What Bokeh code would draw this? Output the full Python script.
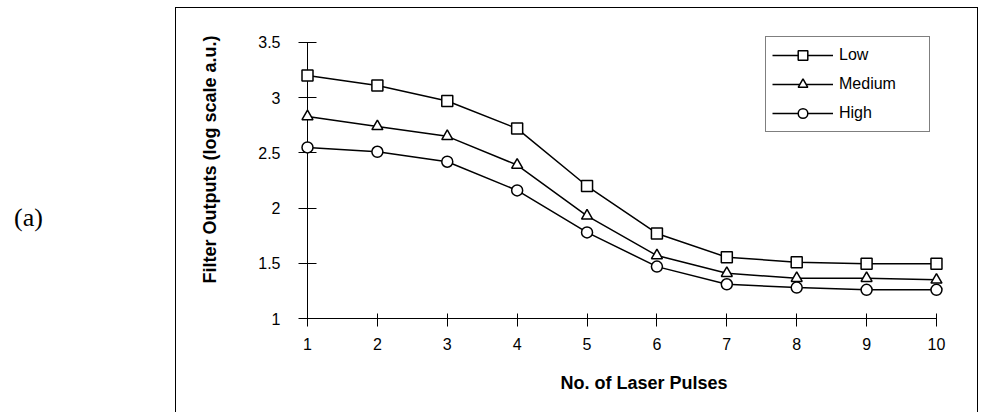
from bokeh.plotting import figure
from bokeh.layouts import row
from bokeh.models import Range1d, FixedTicker, CustomJSTickFormatter, Label, Legend
from bokeh.embed import file_html
from bokeh.resources import INLINE

# Number of laser pulses (x) and filter outputs (log scale a.u.) per level
pulses = [1, 2, 3, 4, 5, 6, 7, 8, 9, 10]
low = [3.20, 3.11, 2.97, 2.72, 2.20, 1.77, 1.555, 1.51, 1.495, 1.495]
medium = [2.83, 2.74, 2.65, 2.39, 1.93, 1.57, 1.41, 1.365, 1.365, 1.35]
high = [2.55, 2.51, 2.42, 2.16, 1.78, 1.47, 1.31, 1.28, 1.26, 1.26]

series_names = ["Low", "Medium", "High"]
y_ticks = [1, 1.5, 2, 2.5, 3, 3.5]
x_ticks = pulses

FONT = "Liberation Sans"
H = 412
LEFT_W = 50          # strip holding the panel tag
MAIN_W = 985 - LEFT_W

# ---- panel tag "(a)" ----
tag = figure(width=LEFT_W, height=H, output_backend="svg", toolbar_location=None,
             x_axis_location=None, y_axis_location=None, min_border=0,
             x_range=Range1d(0, 1), y_range=Range1d(0, 1))
tag.outline_line_color = None
tag.grid.visible = False
tag.add_layout(Label(x=28, y=101, x_units="screen", y_units="screen",
                     text="(a)", text_align="center", text_baseline="middle",
                     text_font="Liberation Serif", text_font_size="26px",
                     text_color="black"))

# ---- main chart: plot area starts exactly at (1, 1) ----
p = figure(width=MAIN_W, height=H, output_backend="svg", toolbar_location=None,
           x_range=Range1d(1, 10.63), y_range=Range1d(1, 3.8804),
           min_border_left=257, min_border_right=5,
           min_border_top=0, min_border_bottom=94)
p.background_fill_alpha = 0
p.border_fill_alpha = 0
p.outline_line_color = None
p.xgrid.visible = False
p.ygrid.visible = False

# thin rectangle framing the whole chart (open at the bottom of the page)
bx0, bx1, by0 = 175 - LEFT_W, 977 - LEFT_W, 7
p.styles = {
    "background-image": ", ".join(["linear-gradient(#000, #000)"] * 3),
    "background-size": f"1px {H}px, 1px {H}px, {bx1 - bx0 + 1}px 1px",
    "background-position": f"{bx0}px {by0}px, {bx1}px {by0}px, {bx0}px {by0}px",
    "background-repeat": "no-repeat",
}

xa = p.xaxis[0]
ya = p.yaxis[0]
xa.bounds = (1, 10)
ya.bounds = (1, 3.5)
xa.ticker = FixedTicker(ticks=x_ticks)
ya.ticker = FixedTicker(ticks=y_ticks)
ya.formatter = CustomJSTickFormatter(code="return String(tick)")
for ax in (xa, ya):
    ax.minor_tick_line_color = None
    ax.axis_line_color = "black"
    ax.major_tick_line_color = "black"
    ax.major_label_text_font = FONT
    ax.major_label_text_font_size = "16px"
    ax.major_label_text_color = "black"
    ax.axis_label_text_font = FONT
    ax.axis_label_text_font_size = "18px"
    ax.axis_label_text_font_style = "bold"
    ax.axis_label_text_color = "black"
xa.major_tick_in = 5
xa.major_tick_out = 8
xa.major_label_standoff = 11
xa.axis_label = "No. of Laser Pulses"
xa.axis_label_standoff = 20
ya.major_tick_in = 9
ya.major_tick_out = 9
ya.major_label_standoff = 18
ya.axis_label = "Filter Outputs (log scale a.u.)"
ya.axis_label_standoff = 35

markers = ["square", "triangle", "circle"]
items = []
for name, vals, mk in zip(series_names, [low, medium, high], markers):
    ln = p.line(pulses, vals, line_color="black", line_width=1.5)
    # markers sit on top of the axes, so they are drawn on the overlay level
    sc = p.scatter(pulses, vals, marker=mk, size=11, fill_color="white",
                   line_color="black", line_width=1.5, level="overlay")
    items.append((name, [ln, sc]))

legend = Legend(items=items, location=(765 - 307, 318 - 132), orientation="vertical",
                glyph_width=61, glyph_height=24, label_height=24,
                label_width=84, label_standoff=6, spacing=5, padding=6,
                margin=0, border_line_color="black", border_line_width=1,
                background_fill_color="white", background_fill_alpha=1,
                label_text_font=FONT, label_text_font_size="16px",
                label_text_color="black")
p.add_layout(legend)

layout = row(tag, p)
open("out.html", "w").write(file_html(layout, INLINE))
